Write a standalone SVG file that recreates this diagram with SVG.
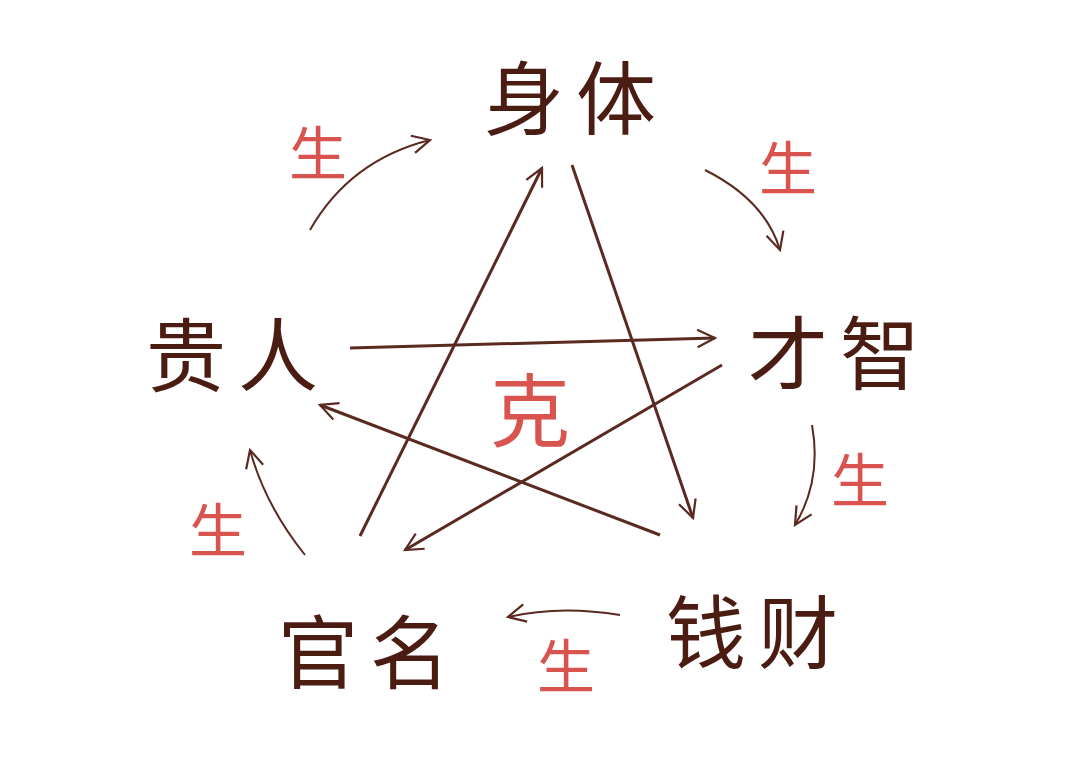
<svg xmlns="http://www.w3.org/2000/svg" width="1080" height="763" viewBox="0 0 1080 763">
<style>
.n{font-family:"Noto Sans CJK SC",sans-serif;font-size:80px;fill:#4a1c12;text-anchor:middle;font-weight:400;letter-spacing:12px}
.r{font-family:"Noto Sans CJK SC",sans-serif;font-size:58px;fill:#d9534f;text-anchor:middle}
.k{font-family:"Noto Sans CJK SC",sans-serif;font-size:80px;fill:#d9534f;text-anchor:middle}
.c path,.c line{stroke:#5a2a20;stroke-width:3;fill:none}
.c path{stroke-width:2}
</style>
<defs><marker id="b" viewBox="0 0 20 20" refX="18" refY="10" markerWidth="22" markerHeight="22" markerUnits="userSpaceOnUse" orient="auto"><polyline points="2,2 18,10 2,18" fill="none" stroke="#5a2a20" stroke-width="2"/></marker></defs>
<rect width="1080" height="763" fill="#fff"/>
<g id="n1"><text class="n" x="576" y="128">身体</text></g>
<g id="n2"><text class="n" x="840" y="383">才智</text></g>
<g id="n3"><text class="n" x="758" y="662">钱财</text></g>
<g id="n4"><text class="n" x="370" y="682">官名</text></g>
<g id="n5"><text class="n" x="238" y="385">贵人</text></g>
<g id="labels">
<text class="k" x="530" y="440">克</text>
<text class="r" x="318" y="175">生</text>
<text class="r" x="788" y="190">生</text>
<text class="r" x="860" y="502">生</text>
<text class="r" x="218" y="552">生</text>
<text class="r" x="566" y="688">生</text>
</g>
<g class="c" id="connectors">
<line x1="350" y1="348" x2="715" y2="338" marker-end="url(#b)"/>
<line x1="722" y1="365" x2="405" y2="550" marker-end="url(#b)"/>
<line x1="360" y1="536" x2="542" y2="168" marker-end="url(#b)"/>
<line x1="572" y1="165" x2="693" y2="518" marker-end="url(#b)"/>
<line x1="660" y1="535" x2="320" y2="405" marker-end="url(#b)"/>
<path d="M310 230 Q350 160 430 140" marker-end="url(#b)"/>
<path d="M705 170 Q765 200 780 250" marker-end="url(#b)"/>
<path d="M812 425 Q822 480 795 525" marker-end="url(#b)"/>
<path d="M620 615 Q560 605 508 617" marker-end="url(#b)"/>
<path d="M305 555 Q265 505 250 450" marker-end="url(#b)"/>
</g>
</svg>
